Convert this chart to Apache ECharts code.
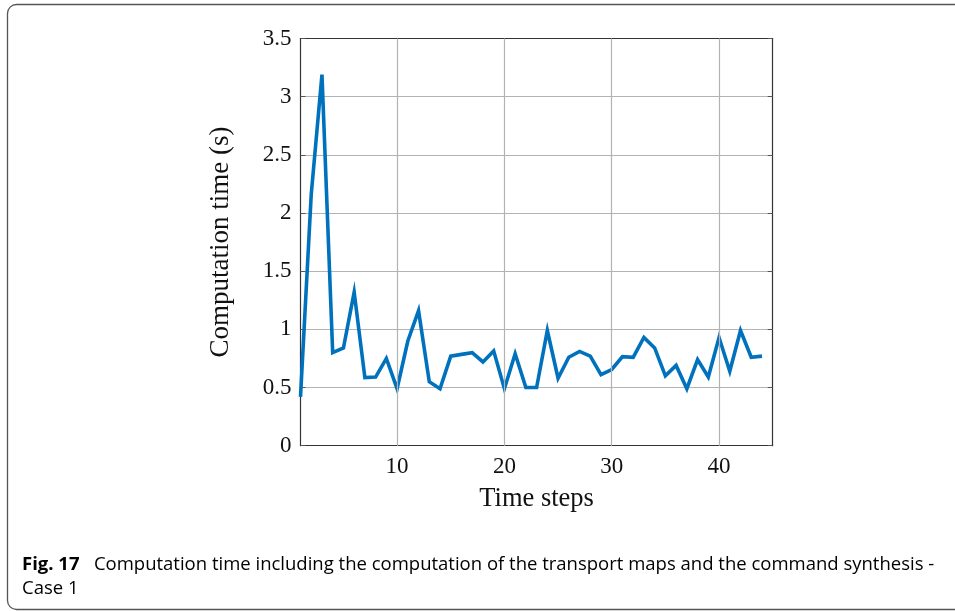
<!DOCTYPE html>
<html>
<head>
<meta charset="utf-8">
<script src="https://cdn.jsdelivr.net/npm/echarts@6/dist/echarts.min.js"></script>
<style>
html,body{margin:0;padding:0;background:#fff;}
#chart{width:955px;height:611px;}
</style>
</head>
<body>
<div id="chart"></div>
<script>
// Data
const timeSteps = [1,2,3,4,5,6,7,8,9,10,11,12,13,14,15,16,17,18,19,20,21,22,23,24,25,26,27,28,29,30,31,32,33,34,35,36,37,38,39,40,41,42,43,44];
const computationTime = [0.42,2.16,3.19,0.80,0.84,1.32,0.585,0.59,0.75,0.49,0.90,1.16,0.55,0.49,0.77,0.785,0.80,0.72,0.815,0.49,0.79,0.50,0.50,0.99,0.58,0.76,0.81,0.77,0.61,0.655,0.765,0.76,0.93,0.84,0.60,0.69,0.49,0.74,0.59,0.93,0.64,0.99,0.76,0.77];
const xTicks = [10,20,30,40];
const xName = 'Time steps';
const yName = 'Computation time (s)';
const captionLabel = 'Fig. 17';
const captionLine1 = 'Computation time including the computation of the transport maps and the command synthesis -';
const captionLine2 = 'Case 1';

const serif = "'Liberation Serif', 'DejaVu Serif', serif";
const sans = "'Open Sans', 'Noto Sans', sans-serif";
const chart = echarts.init(document.getElementById('chart'));

const seriesData = timeSteps.map((t, i) => [t, computationTime[i]]);

const option = {
  animation: false,
  backgroundColor: '#fff',
  grid: {left: 300.5, right: 182.3, top: 38.5, bottom: 165.3, containLabel: false},
  xAxis: [{
    type: 'value', min: 1, max: 45,
    name: xName, nameLocation: 'middle', nameGap: 40,
    nameTextStyle: {fontFamily: serif, fontSize: 26.5, color: '#111'},
    axisLine: {show: true, onZero: false, lineStyle: {color: '#333', width: 1.2}},
    axisTick: {show: true, inside: true, length: 5, customValues: xTicks, lineStyle: {color: '#555'}},
    axisLabel: {customValues: xTicks, fontFamily: serif, fontSize: 23, color: '#111', margin: 10},
    splitLine: {show: false}
  }, {
    type: 'value', min: 1, max: 45, position: 'top',
    axisLine: {show: true, onZero: false, lineStyle: {color: '#333', width: 1.2}},
    axisTick: {show: true, inside: true, length: 5, customValues: xTicks, lineStyle: {color: '#555'}},
    axisLabel: {show: false},
    splitLine: {show: false}
  }],
  yAxis: [{
    type: 'value', min: 0, max: 3.5, interval: 0.5,
    name: yName, nameLocation: 'middle', nameGap: 66, nameRotate: 90,
    nameTextStyle: {fontFamily: serif, fontSize: 27, color: '#111'},
    axisLine: {show: true, onZero: false, lineStyle: {color: '#333', width: 1.2}},
    axisTick: {show: true, inside: true, length: 5, lineStyle: {color: '#555'}},
    axisLabel: {fontFamily: serif, fontSize: 23, color: '#111', margin: 9,
      formatter: v => String(v)},
    splitLine: {show: true, lineStyle: {color: '#b3b3b3', width: 1.2}}
  }, {
    type: 'value', min: 0, max: 3.5, interval: 0.5, position: 'right',
    axisLine: {show: true, onZero: false, lineStyle: {color: '#333', width: 1.2}},
    axisTick: {show: true, inside: true, length: 5, lineStyle: {color: '#555'}},
    axisLabel: {show: false},
    splitLine: {show: false}
  }],
  series: [{
    type: 'line', data: [], silent: true, z: 1,
    markLine: {
      silent: true, symbol: 'none', label: {show: false},
      lineStyle: {color: '#b3b3b3', width: 1.2, type: 'solid'},
      data: xTicks.map(v => ({xAxis: v}))
    }
  }, {
    type: 'line', data: seriesData, z: 3,
    showSymbol: false, symbol: 'none',
    lineStyle: {color: '#0072bd', width: 3.6, join: 'miter'},
    itemStyle: {color: '#0072bd'}
  }],
  graphic: [{
    type: 'rect', silent: true,
    shape: {x: 7.5, y: 4.5, width: 1000, height: 605, r: 9},
    style: {fill: 'none', stroke: '#555', lineWidth: 1.3}
  }, {
    type: 'text', left: 22, top: 555,
    style: {
      text: '{b|' + captionLabel + '}{n|   ' + captionLine1 + '}\n{n|' + captionLine2 + '}',
      rich: {
        b: {fontFamily: sans, fontWeight: 'bold', fontSize: 18.5, color: '#222', lineHeight: 24},
        n: {fontFamily: sans, fontSize: 18.5, color: '#333', lineHeight: 24}
      }
    }
  }]
};
chart.setOption(option);
</script>
</body>
</html>
